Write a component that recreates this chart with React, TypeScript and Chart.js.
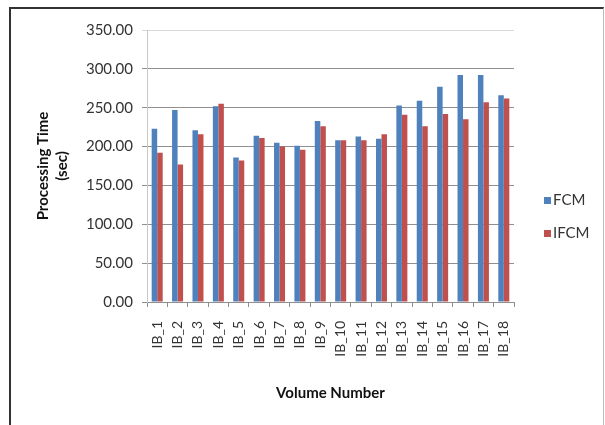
import React, { useEffect, useRef } from "react";
import { Chart, registerables } from "chart.js";

Chart.register(...registerables);

const categories = ["IB_1","IB_2","IB_3","IB_4","IB_5","IB_6","IB_7","IB_8","IB_9","IB_10","IB_11","IB_12","IB_13","IB_14","IB_15","IB_16","IB_17","IB_18"];
const fcmValues = [223, 247, 221, 252, 186, 214, 205, 201, 233, 208, 213, 210, 253, 259, 277, 292, 292, 266];
const ifcmValues = [192, 177, 216, 255, 182, 211, 200, 196, 226, 208, 208, 216, 241, 226, 242, 235, 257, 262];
const seriesNames = ["FCM", "IFCM"];
const seriesColors = ["#4F81BD", "#C0504D"];
const yMin = 0;
const yMax = 350;
const yStep = 50;
const yTitle = ["Processing Time", "(sec)"];
const xTitle = "Volume Number";

const FONT = "Lato, 'Open Sans', sans-serif";

const legendPlugin = {
  id: "sideLegend",
  afterDraw(chart: any) {
    const ctx = chart.ctx;
    ctx.save();
    chart.data.datasets.forEach((ds: any, i: number) => {
      const cy = 200.5 + i * 33;
      ctx.fillStyle = ds.backgroundColor;
      ctx.fillRect(544, cy - 3.5, 7, 7);
      ctx.fillStyle = "#333";
      ctx.font = "15px " + FONT;
      ctx.textBaseline = "middle";
      ctx.textAlign = "left";
      ctx.fillText(ds.label, 553, cy);
    });
    ctx.restore();
  },
};

export default function App() {
  const ref = useRef<HTMLCanvasElement>(null);
  useEffect(() => {
    if (!ref.current) return;
    const chart = new Chart(ref.current, {
      type: "bar",
      data: {
        labels: categories,
        datasets: [
          { label: seriesNames[0], data: fcmValues, backgroundColor: seriesColors[0], categoryPercentage: 0.54, barPercentage: 1 },
          { label: seriesNames[1], data: ifcmValues, backgroundColor: seriesColors[1], categoryPercentage: 0.54, barPercentage: 1 },
        ],
      },
      options: {
        responsive: false,
        animation: false,
        layout: { padding: { top: 30, right: 91, left: 0, bottom: 0 } },
        plugins: { legend: { display: false }, tooltip: { enabled: false } },
        scales: {
          x: {
            afterFit: (s: any) => { s.height = 123; },
            grid: { display: true, drawOnChartArea: false, offset: true, tickLength: 5, color: "#8f8f8f" },
            border: { color: "#8f8f8f" },
            ticks: { minRotation: 90, maxRotation: 90, padding: 14, color: "#333", font: { family: FONT, size: 14 }, autoSkip: false },
            title: { display: true, text: xTitle, color: "#111", font: { family: FONT, size: 15, weight: "bold" }, padding: { top: 0, bottom: 23 } },
          },
          y: {
            min: yMin,
            max: yMax,
            afterFit: (s: any) => { s.width = 147; },
            grid: { tickLength: 5, color: (c: any) => (c.tick && c.tick.value === yMax ? "#d9d9d9" : "#8f8f8f") },
            border: { color: "#c8c8c8" },
            ticks: { stepSize: yStep, padding: 9, color: "#333", font: { family: FONT, size: 15 }, callback: (v: any) => Number(v).toFixed(2) },
            title: { display: true, text: yTitle, color: "#111", font: { family: FONT, size: 15, weight: "bold", lineHeight: 1.3 }, padding: { top: 33, bottom: 0 } },
          },
        },
      },
      plugins: [legendPlugin],
    });
    return () => chart.destroy();
  }, []);
  return (
    <div style={{ position: "absolute", left: 0, top: 0, width: 605, height: 425, overflow: "hidden", background: "#fff" }}>
      <div style={{ position: "absolute", left: 9, top: 7, width: 592, height: 440, borderLeft: "2px solid #333", borderTop: "2px solid #333", borderRight: "1px solid #bbb" }} />
      <canvas ref={ref} width={605} height={425} style={{ position: "absolute", left: 0, top: 0, width: 605, height: 425 }} />
    </div>
  );
}
